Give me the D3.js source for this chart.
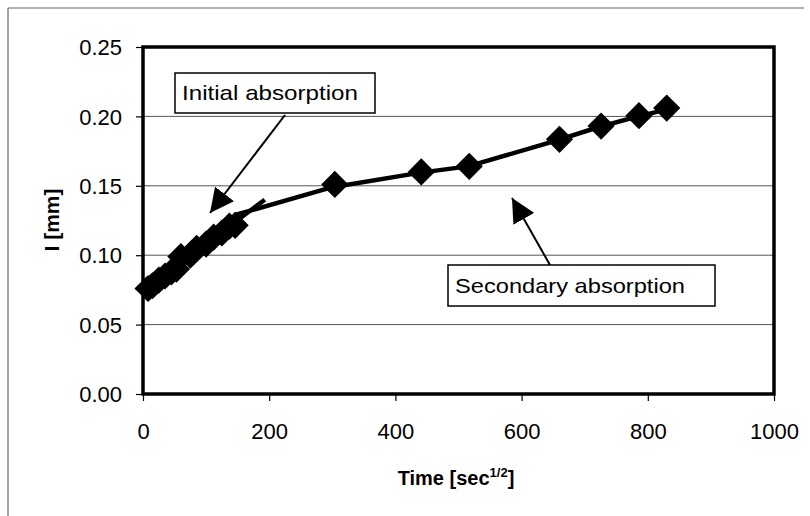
<!DOCTYPE html>
<html>
<head>
<meta charset="utf-8">
<script src="https://cdn.jsdelivr.net/npm/d3@7"></script>
<style>
  body { margin: 0; background: #fff; }
  text { font-family: "Liberation Sans", Arial, sans-serif; }
</style>
</head>
<body>
<svg width="810" height="516"></svg>
<script>
let timeVals = [8, 15, 25, 35, 45, 53, 60, 75, 85, 100, 112, 125, 137, 146, 304, 441, 517, 660, 726, 786, 830];
let absVals = [0.076, 0.078, 0.082, 0.085, 0.088, 0.090, 0.099, 0.100, 0.105, 0.108, 0.113, 0.116, 0.121, 0.1215, 0.151, 0.160, 0.164, 0.1835, 0.193, 0.2005, 0.206];

// the two drawn lines
let initialX = [0, 193];
let initialY = [0.074, 0.140];
let secondX = [146, 300, 440, 515, 655, 720, 780, 826];
let secondY = [0.129, 0.149, 0.1595, 0.164, 0.1825, 0.192, 0.1995, 0.2045];

let xTicks = [0, 200, 400, 600, 800, 1000];
let yTicks = [0.00, 0.05, 0.10, 0.15, 0.20, 0.25];

let svg = d3.select("svg");
let plotL = 143, plotR = 774, plotT = 47, plotB = 394;

// outer frame (only top and left edges show)
svg.append("line").attr("x1", 8).attr("y1", 8).attr("x2", 804).attr("y2", 8)
  .attr("stroke", "#666").attr("stroke-width", 1.2);
svg.append("line").attr("x1", 8).attr("y1", 8).attr("x2", 8).attr("y2", 516)
  .attr("stroke", "#666").attr("stroke-width", 1.2);

let xScale = d3.scaleLinear().domain([0, 1000]).range([plotL, plotR]);
let yScale = d3.scaleLinear().domain([0, 0.25]).range([plotB, plotT]);

// grid lines
svg.append("g")
  .selectAll("line")
  .data(yTicks.slice(1, 5))
  .enter()
  .append("line")
  .attr("x1", plotL)
  .attr("x2", plotR)
  .attr("y1", function (d) { return yScale(d); })
  .attr("y2", function (d) { return yScale(d); })
  .attr("stroke", "#555")
  .attr("stroke-width", 1);

// axes
let xAxis = svg.append("g")
  .attr("transform", "translate(0," + plotB + ")")
  .call(d3.axisBottom(xScale).tickValues(xTicks).tickSize(7).tickPadding(22).tickFormat(d3.format("d")));
let yAxis = svg.append("g")
  .attr("transform", "translate(" + plotL + ",0)")
  .call(d3.axisLeft(yScale).tickValues(yTicks).tickSize(7).tickPadding(14).tickFormat(d3.format(".2f")));
[xAxis, yAxis].forEach(function (a) {
  a.select(".domain").remove();
  a.selectAll("line").attr("stroke", "#000").attr("stroke-width", 1.2);
  a.selectAll("text").attr("font-size", 22).attr("fill", "#000")
    .attr("font-family", "Liberation Sans, Arial, sans-serif");
});
yAxis.selectAll("text").attr("dy", "0.35em");

// plot frame
svg.append("rect")
  .attr("x", plotL).attr("y", plotT)
  .attr("width", plotR - plotL).attr("height", plotB - plotT)
  .attr("fill", "none").attr("stroke", "#000").attr("stroke-width", 3.5);

// lines
let line = d3.line()
  .x(function (d) { return xScale(d[0]); })
  .y(function (d) { return yScale(d[1]); });
svg.append("path")
  .datum(d3.zip(initialX, initialY))
  .attr("d", line)
  .attr("fill", "none").attr("stroke", "#000").attr("stroke-width", 4.5);
svg.append("path")
  .datum(d3.zip(secondX, secondY))
  .attr("d", line)
  .attr("fill", "none").attr("stroke", "#000").attr("stroke-width", 4.5)
  .attr("stroke-linejoin", "round");

// diamonds
let diamond = d3.symbol().type(d3.symbolSquare).size(370);
svg.append("g")
  .selectAll("path")
  .data(d3.zip(timeVals, absVals))
  .enter()
  .append("path")
  .attr("d", diamond)
  .attr("transform", function (d) {
    return "translate(" + xScale(d[0]) + "," + yScale(d[1]) + ") rotate(45)";
  })
  .attr("fill", "#000");

// annotations
svg.append("defs").append("marker")
  .attr("id", "head")
  .attr("viewBox", "0 0 10 10")
  .attr("refX", 10).attr("refY", 5)
  .attr("markerWidth", 24).attr("markerHeight", 24)
  .attr("markerUnits", "userSpaceOnUse")
  .attr("orient", "auto")
  .append("path")
  .attr("d", "M0,0 L10,5 L0,10 z")
  .attr("fill", "#000");

function note(x, y, w, h, label, len, ax1, ay1, ax2, ay2) {
  svg.append("line")
    .attr("x1", ax1).attr("y1", ay1).attr("x2", ax2).attr("y2", ay2)
    .attr("stroke", "#000").attr("stroke-width", 2)
    .attr("marker-end", "url(#head)");
  svg.append("rect")
    .attr("x", x).attr("y", y).attr("width", w).attr("height", h)
    .attr("fill", "#fff").attr("stroke", "#000").attr("stroke-width", 1.5);
  svg.append("text")
    .attr("x", x + 7).attr("y", y + h / 2 + 7)
    .attr("font-size", 21)
    .attr("textLength", len)
    .attr("lengthAdjust", "spacingAndGlyphs")
    .text(label);
}
note(175, 73, 200, 40, "Initial absorption", 176, 285, 115, 210, 213);
note(448, 265, 267, 41, "Secondary absorption", 230, 550, 265, 512, 198);

// axis titles
svg.append("text")
  .attr("x", 456).attr("y", 485)
  .attr("text-anchor", "middle")
  .attr("font-size", 20).attr("font-weight", "bold")
  .html('Time [sec<tspan dy="-8" font-size="13">1/2</tspan><tspan dy="8">]</tspan>');
svg.append("text")
  .attr("transform", "translate(59,220) rotate(-90)")
  .attr("text-anchor", "middle")
  .attr("font-size", 21).attr("font-weight", "bold")
  .text("I [mm]");
</script>
</body>
</html>
